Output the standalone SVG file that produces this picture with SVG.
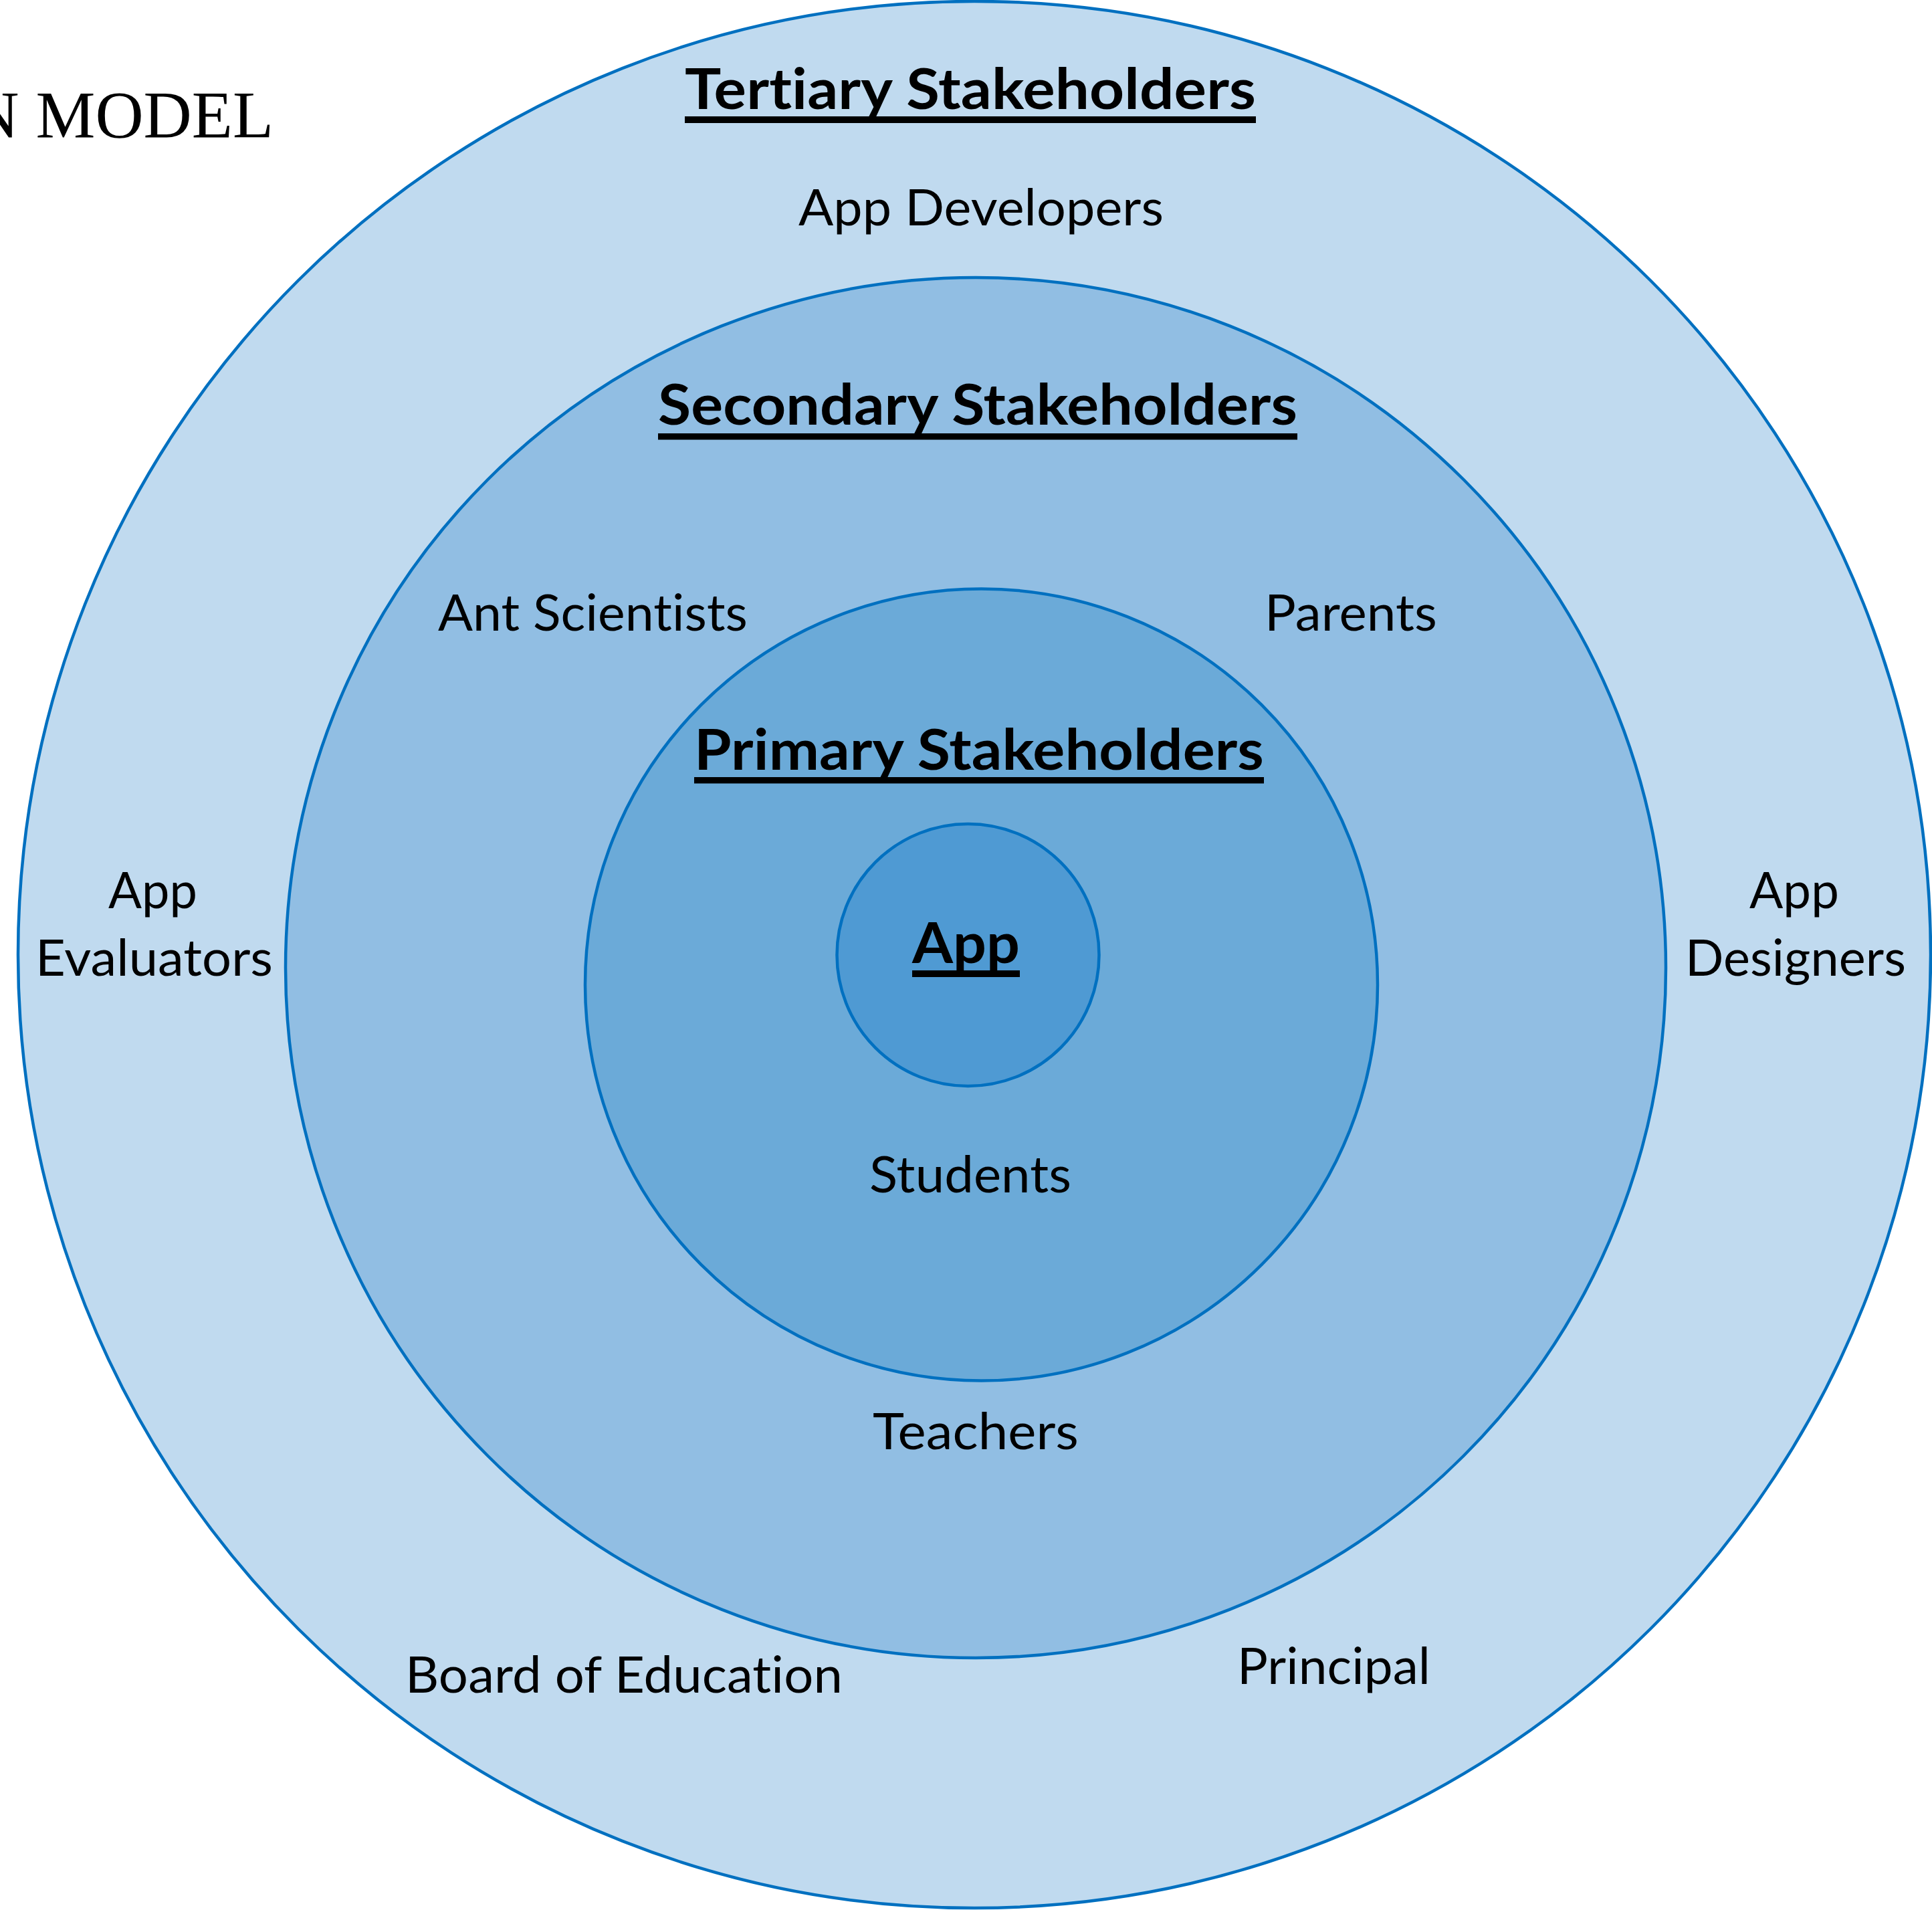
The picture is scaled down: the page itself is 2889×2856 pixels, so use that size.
<svg xmlns="http://www.w3.org/2000/svg" width="2889" height="2856" viewBox="0 0 2889 2856">
  <style>
    .label, .head {
      font-family: Lato, "Open Sans", sans-serif; fill: #000;
      font-variant-ligatures: none;
      font-feature-settings: "liga" 0, "clig" 0, "dlig" 0, "calt" 0;
      letter-spacing: 0.1px;
    }
    .ring { stroke: #0070C0; stroke-width: 4.5; }
    .label { font-size: 75px; }
    .head { font-size: 84px; font-weight: bold; }
    .rule { fill: #000; }
    .title { font-family: "Liberation Serif", "DejaVu Serif", serif; font-size: 100px; fill: #000; }
  </style>
  <rect x="0" y="0" width="2889" height="2856" fill="#FFFFFF"/>

  <!-- page title, running off the left edge -->
  <text class="title" x="409" y="205" text-anchor="end">N MODEL</text>

  <!-- outer ring: tertiary stakeholders -->
  <g id="tertiary">
    <ellipse class="ring" cx="1457" cy="1427.5" rx="1430" ry="1425.5" fill="#C0DAEF"/>
    <text class="head" x="1024" y="163" textLength="854" lengthAdjust="spacingAndGlyphs">Tertiary Stakeholders</text>
    <rect class="rule" x="1024" y="174" width="854" height="10"/>
    <text class="label" x="1194" y="337" textLength="546" lengthAdjust="spacingAndGlyphs">App Developers</text>
    <text class="label" x="162" y="1358" textLength="133" lengthAdjust="spacingAndGlyphs">App</text>
    <text class="label" x="53" y="1459" textLength="355" lengthAdjust="spacingAndGlyphs">Evaluators</text>
    <text class="label" x="2616" y="1358" textLength="134" lengthAdjust="spacingAndGlyphs">App</text>
    <text class="label" x="2520" y="1459" textLength="330" lengthAdjust="spacingAndGlyphs">Designers</text>
    <text class="label" x="606" y="2531" textLength="654" lengthAdjust="spacingAndGlyphs">Board of Education</text>
    <text class="label" x="1850" y="2518" textLength="289" lengthAdjust="spacingAndGlyphs">Principal</text>
  </g>

  <!-- middle ring: secondary stakeholders -->
  <g id="secondary">
    <ellipse class="ring" cx="1459" cy="1447" rx="1032" ry="1032" fill="#91BEE3"/>
    <text class="head" x="984" y="635" textLength="956" lengthAdjust="spacingAndGlyphs">Secondary Stakeholders</text>
    <rect class="rule" x="984" y="648" width="956" height="9.5"/>
    <text class="label" x="655" y="943" textLength="463" lengthAdjust="spacingAndGlyphs">Ant Scientists</text>
    <text class="label" x="1891" y="943" textLength="258" lengthAdjust="spacingAndGlyphs">Parents</text>
    <text class="label" x="1305" y="2167" textLength="308" lengthAdjust="spacingAndGlyphs">Teachers</text>
  </g>

  <!-- inner ring: primary stakeholders -->
  <g id="primary">
    <ellipse class="ring" cx="1467.5" cy="1472.5" rx="592.5" ry="592" fill="#6BAAD8"/>
    <text class="head" x="1038" y="1151" textLength="852" lengthAdjust="spacingAndGlyphs">Primary Stakeholders</text>
    <rect class="rule" x="1038" y="1162" width="852" height="9.5"/>
    <text class="label" x="1300" y="1783" textLength="302" lengthAdjust="spacingAndGlyphs">Students</text>
  </g>

  <!-- core: the app -->
  <g id="app">
    <circle class="ring" cx="1447.5" cy="1428" r="196" fill="#4F9AD3"/>
    <text class="head" x="1364" y="1440" textLength="161" lengthAdjust="spacingAndGlyphs">App</text>
    <rect class="rule" x="1364" y="1451" width="161" height="10"/>
  </g>
</svg>
